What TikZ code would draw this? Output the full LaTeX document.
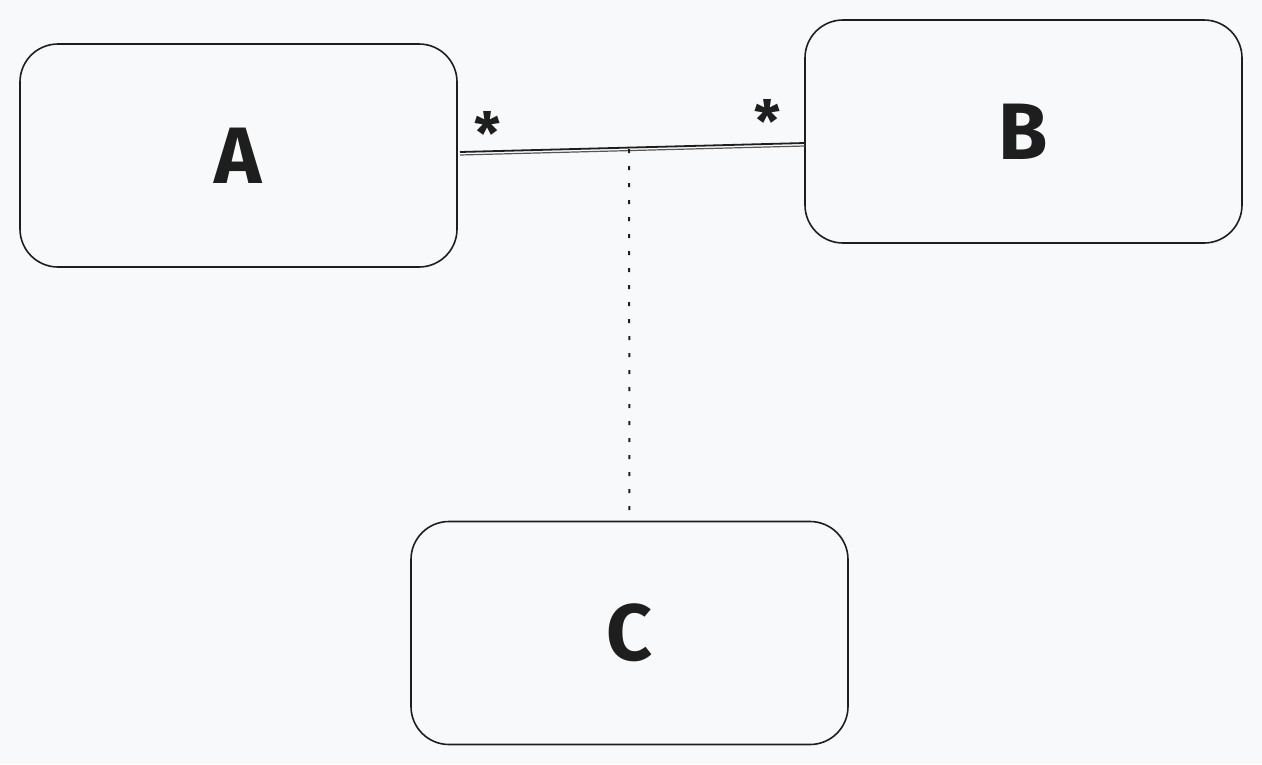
\documentclass[tikz,border=0pt]{standalone}
\usepackage{fontspec}
\setmainfont{Fira Sans}
\definecolor{bg}{HTML}{F8F9FA}
\definecolor{ink}{HTML}{1E1E1E}
\begin{document}
\begin{tikzpicture}[x=1pt,y=-1pt,
  box/.style={draw=ink, line width=1.6pt, rounded corners=38pt, minimum width=437pt, minimum height=223pt, inner sep=0pt, font=\fontsize{80}{80}\selectfont\bfseries, text=ink},
  mult/.style={font=\fontsize{58}{58}\selectfont\bfseries, text=ink, inner sep=0pt},
  link/.style={draw=ink, line width=1.8pt},
  dots/.style={draw=ink, line width=2pt, dash pattern=on 4pt off 13pt}]
\fill[bg] (0,0) rectangle (1262,764);
\useasboundingbox (0,0) rectangle (1262,764);
\node[box] (A) at (238.5,155.5) {A};
\node[box] (B) at (1023.5,131.5) {B};
\node[box] (C) at (629.5,633) {C};
\coordinate (a1) at (460,152);
\coordinate (b1) at (805,143);
\draw[link] (a1) -- (b1);
\draw[link, line width=1.2pt, draw=ink!75] ([yshift=-3pt]a1) -- ([yshift=-3pt]b1);
\coordinate (m) at (629,149);
\draw[dots] (m) -- (C.north);
\node[mult] (sa) at (488,133) {*};
\node[mult] (sb) at (768,121) {*};
\end{tikzpicture}
\end{document}
